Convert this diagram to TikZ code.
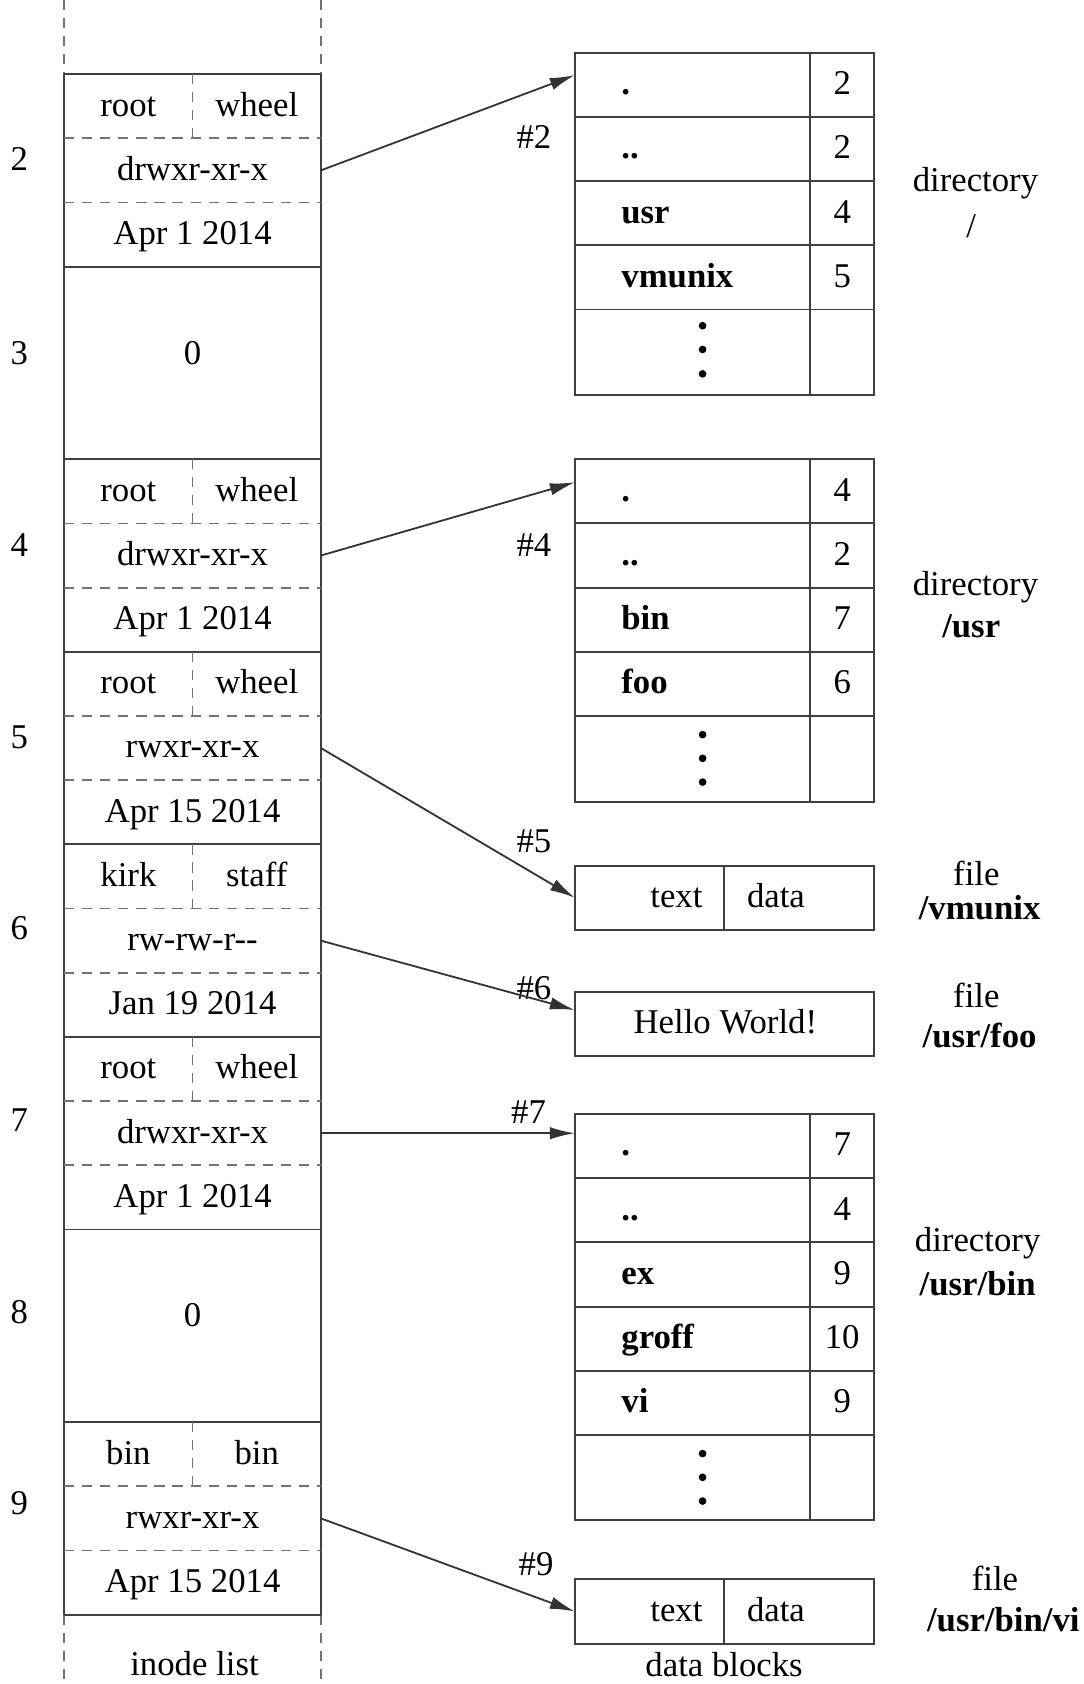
\documentclass[tikz,border=0pt]{standalone}
\usepackage{fontspec}
\setmainfont{Liberation Serif}
\usetikzlibrary{arrows.meta}
\tikzset{
  frame/.style={line width=0.85pt, draw=black!75},
  sep/.style={line width=0.8pt, draw=black!55, dash pattern=on 4.5pt off 3.5pt},
  ptr/.style={line width=0.8pt, draw=black!80, -{Latex[length=11pt,width=5.5pt]}},
  cell/.style={inner sep=0pt, text height=2.2ex, text depth=0.3ex},
  dotmark/.style={fill=black},
}
\begin{document}
\begin{tikzpicture}[font=\fontsize{15.4}{19}\selectfont, x=1cm, y=-1cm]
        \useasboundingbox (0,-1.154) rectangle (16.886,25.08);

        % inode list: the column goes on above and below
        \draw[sep] (1,-1.154) -- (1,0);
        \draw[sep] (5,-1.154) -- (5,0);
        \draw[sep] (1,24) -- (1,25.08);
        \draw[sep] (5,24) -- (5,25.08);
        \draw[frame] (1,0) -- (1,24);
        \draw[frame] (5,0) -- (5,24);
        \foreach \r in {0,3,6,9,12,15,18,21,24}
            \draw[frame] (1,\r) -- (5,\r);
        \foreach \r in {1,2,7,8,10,11,13,14,16,17,22,23}
            \draw[sep] (1,\r) -- (5,\r);
        \foreach \r in {0,6,9,12,15,21}
            \draw[sep] (3,\r) -- (3,\r+1);

        % inode numbers
        \node (n2) at (0.3,1.33) {2};
        \node (n3) at (0.3,4.35) {3};
        \node (n4) at (0.3,7.33) {4};
        \node (n5) at (0.3,10.33) {5};
        \node (n6) at (0.3,13.3) {6};
        \node (n7) at (0.3,16.3) {7};
        \node (n8) at (0.3,19.29) {8};
        \node (n9) at (0.3,22.27) {9};

        % inode 2
        \node[cell] (i2own) at (2,0.5) {root};
        \node[cell] (i2grp) at (4,0.5) {wheel};
        \node[cell] (i2mode) at (3,1.5) {drwxr-xr-x};
        \node[cell] (i2date) at (3,2.5) {Apr 1 2014};
        % inode 3
        \node (i3free) at (3,4.35) {0};
        % inode 4
        \node[cell] (i4own) at (2,6.5) {root};
        \node[cell] (i4grp) at (4,6.5) {wheel};
        \node[cell] (i4mode) at (3,7.5) {drwxr-xr-x};
        \node[cell] (i4date) at (3,8.5) {Apr 1 2014};
        % inode 5
        \node[cell] (i5own) at (2,9.5) {root};
        \node[cell] (i5grp) at (4,9.5) {wheel};
        \node[cell] (i5mode) at (3,10.5) {rwxr-xr-x};
        \node[cell] (i5date) at (3,11.5) {Apr 15 2014};
        % inode 6
        \node[cell] (i6own) at (2,12.5) {kirk};
        \node[cell] (i6grp) at (4,12.5) {staff};
        \node[cell] (i6mode) at (3,13.5) {rw-rw-r-{}-};
        \node[cell] (i6date) at (3,14.5) {Jan 19 2014};
        % inode 7
        \node[cell] (i7own) at (2,15.5) {root};
        \node[cell] (i7grp) at (4,15.5) {wheel};
        \node[cell] (i7mode) at (3,16.5) {drwxr-xr-x};
        \node[cell] (i7date) at (3,17.5) {Apr 1 2014};
        % inode 8
        \node (i8free) at (3,19.33) {0};
        % inode 9
        \node[cell] (i9own) at (2,21.5) {bin};
        \node[cell] (i9grp) at (4,21.5) {bin};
        \node[cell] (i9mode) at (3,22.5) {rwxr-xr-x};
        \node[cell] (i9date) at (3,23.5) {Apr 15 2014};

        \node (inodes) at (3.03,24.76) {inode list};

        % directory /
        \draw[frame] (8.953,-0.333) rectangle (13.62,5);
        \draw[frame] (12.62,-0.333) -- (12.62,5);
        \foreach \r in {0.667,1.667,2.667,3.667}
            \draw[frame] (8.953,\r) -- (13.62,\r);
        \node[cell, anchor=west] (r2a) at (9.673,0.167) {\textbf{.}};
        \node[cell, anchor=west] (r2b) at (9.673,1.167) {\textbf{..}};
        \node[cell, anchor=west] (r2c) at (9.673,2.167) {\textbf{usr}};
        \node[cell, anchor=west] (r2d) at (9.673,3.167) {\textbf{vmunix}};
        \node[cell] (r2an) at (13.12,0.167) {2};
        \node[cell] (r2bn) at (13.12,1.167) {2};
        \node[cell] (r2cn) at (13.12,2.167) {4};
        \node[cell] (r2dn) at (13.12,3.167) {5};
        \foreach \d in {3.92,4.29,4.67}
            \fill[dotmark] (10.945,\d) circle (0.06);
        \node (l2a) at (15.196,1.7) {directory};
        \node (l2b) at (15.13,2.37) {/};
        \node (h2) at (8.318,0.98) {\#2};

        % directory /usr
        \draw[frame] (8.953,6) rectangle (13.62,11.333);
        \draw[frame] (12.62,6) -- (12.62,11.333);
        \foreach \r in {7,8,9,10}
            \draw[frame] (8.953,\r) -- (13.62,\r);
        \node[cell, anchor=west] (r4a) at (9.673,6.5) {\textbf{.}};
        \node[cell, anchor=west] (r4b) at (9.673,7.5) {\textbf{..}};
        \node[cell, anchor=west] (r4c) at (9.673,8.5) {\textbf{bin}};
        \node[cell, anchor=west] (r4d) at (9.673,9.5) {\textbf{foo}};
        \node[cell] (r4an) at (13.12,6.5) {4};
        \node[cell] (r4bn) at (13.12,7.5) {2};
        \node[cell] (r4cn) at (13.12,8.5) {7};
        \node[cell] (r4dn) at (13.12,9.5) {6};
        \foreach \d in {10.29,10.66,11.03}
            \fill[dotmark] (10.945,\d) circle (0.06);
        \node (l4a) at (15.196,8.0) {directory};
        \node (l4b) at (15.13,8.6) {\textbf{/usr}};
        \node (h4) at (8.318,7.34) {\#4};

        % file /vmunix
        \draw[frame] (8.953,12.33) rectangle (13.62,13.33);
        \draw[frame] (11.28,12.33) -- (11.28,13.33);
        \node[cell, anchor=east] (f5text) at (10.95,12.83) {text};
        \node[cell, anchor=west] (f5data) at (11.63,12.83) {data};
        \node (l5a) at (15.21,12.45) {file};
        \node (l5b) at (15.26,12.98) {\textbf{/vmunix}};
        \node (h5) at (8.318,11.95) {\#5};

        % file /usr/foo
        \draw[frame] (8.953,14.3) rectangle (13.62,15.3);
        \node[cell] (f6text) at (11.3,14.8) {Hello World!};
        \node (l6a) at (15.21,14.36) {file};
        \node (l6b) at (15.26,14.98) {\textbf{/usr/foo}};
        \node (h6) at (8.318,14.24) {\#6};

        % directory /usr/bin
        \draw[frame] (8.953,16.2) rectangle (13.62,22.53);
        \draw[frame] (12.62,16.2) -- (12.62,22.53);
        \foreach \r in {17.2,18.2,19.2,20.2,21.2}
            \draw[frame] (8.953,\r) -- (13.62,\r);
        \node[cell, anchor=west] (r7a) at (9.673,16.7) {\textbf{.}};
        \node[cell, anchor=west] (r7b) at (9.673,17.7) {\textbf{..}};
        \node[cell, anchor=west] (r7c) at (9.673,18.7) {\textbf{ex}};
        \node[cell, anchor=west] (r7d) at (9.673,19.7) {\textbf{groff}};
        \node[cell, anchor=west] (r7e) at (9.673,20.7) {\textbf{vi}};
        \node[cell] (r7an) at (13.12,16.7) {7};
        \node[cell] (r7bn) at (13.12,17.7) {4};
        \node[cell] (r7cn) at (13.12,18.7) {9};
        \node[cell] (r7dn) at (13.12,19.7) {10};
        \node[cell] (r7en) at (13.12,20.7) {9};
        \foreach \d in {21.49,21.86,22.23}
            \fill[dotmark] (10.945,\d) circle (0.06);
        \node (l7a) at (15.23,18.22) {directory};
        \node (l7b) at (15.23,18.84) {\textbf{/usr/bin}};
        \node (h7) at (8.234,16.17) {\#7};

        % file /usr/bin/vi
        \draw[frame] (8.953,23.45) rectangle (13.62,24.45);
        \draw[frame] (11.28,23.45) -- (11.28,24.45);
        \node[cell, anchor=east] (f9text) at (10.95,23.95) {text};
        \node[cell, anchor=west] (f9data) at (11.63,23.95) {data};
        \node (l9a) at (15.5,23.44) {file};
        \node (l9b) at (15.63,24.08) {\textbf{/usr/bin/vi}};
        \node (h9) at (8.351,23.22) {\#9};

        \node (blocks) at (11.28,24.78) {data blocks};

        % pointers from inodes to their blocks
        \coordinate (i2) at (5,1.5);   \coordinate (b2) at (8.953,0.017);
        \coordinate (i4) at (5,7.5);   \coordinate (b4) at (8.953,6.36);
        \coordinate (i5) at (5,10.5);  \coordinate (b5) at (8.953,12.83);
        \coordinate (i6) at (5,13.5);  \coordinate (b6) at (8.953,14.58);
        \coordinate (i7) at (5,16.5);  \coordinate (b7) at (8.953,16.5);
        \coordinate (i9) at (5,22.5);  \coordinate (b9) at (8.953,23.95);
        \draw[ptr] (i2) -- (b2);
        \draw[ptr] (i4) -- (b4);
        \draw[ptr] (i5) -- (b5);
        \draw[ptr] (i6) -- (b6);
        \draw[ptr] (i7) -- (b7);
        \draw[ptr] (i9) -- (b9);
   \end{tikzpicture}
\end{document}
